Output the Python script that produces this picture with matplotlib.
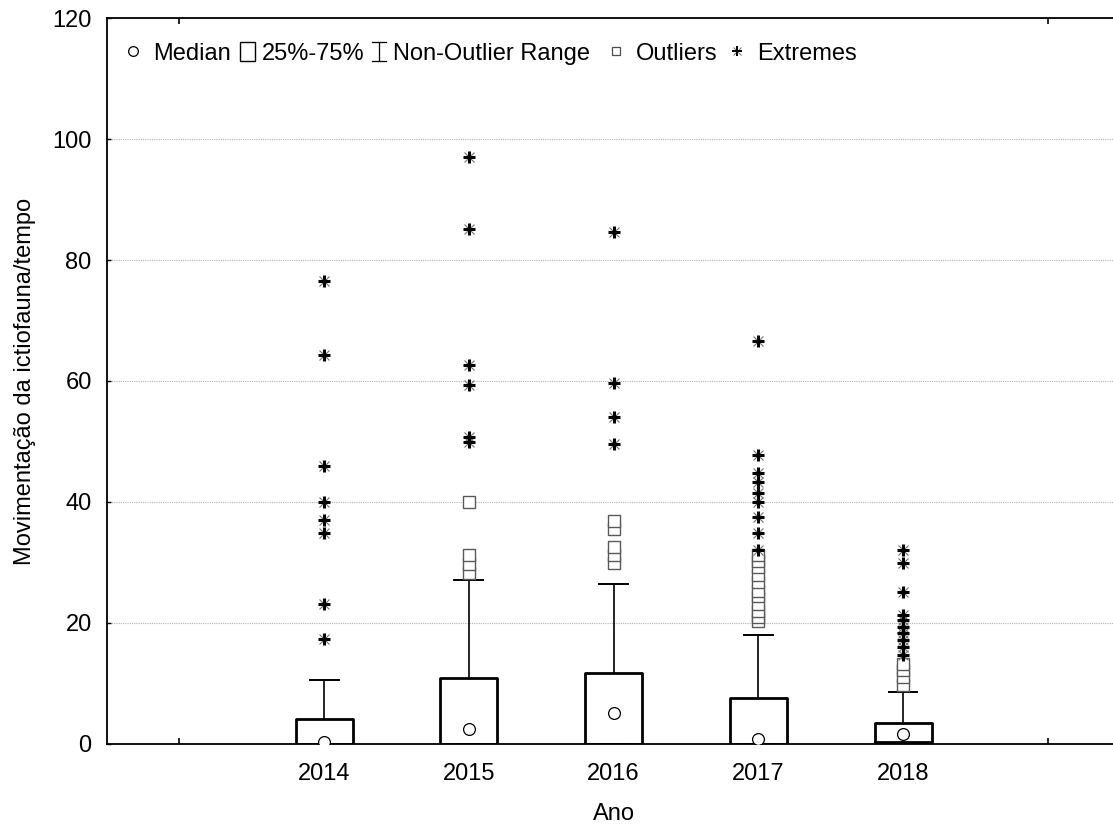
import matplotlib
matplotlib.use("Agg")
import matplotlib.pyplot as plt
from matplotlib.patches import Rectangle

plt.rcParams["font.family"] = ["Liberation Sans", "DejaVu Sans"]

years = ["2014", "2015", "2016", "2017", "2018"]
q1 = [0.0, 0.0, 0.0, 0.0, 0.3]
q3 = [4.1, 10.9, 11.8, 7.6, 3.5]
medians = [0.3, 2.5, 5.1, 0.8, 1.6]
whisk_lo = [0.0, 0.0, 0.0, 0.0, 0.0]
whisk_hi = [10.6, 27.1, 26.4, 18.0, 8.6]
outliers = [
    [],
    [28.3, 29.7, 31.2, 40.0],
    [29.9, 31.2, 32.6, 35.5, 36.9],
    [20.3, 21.0, 22.0, 23.2, 24.5, 25.3, 26.8, 28.0, 29.2, 30.3, 31.2],
    [9.8, 11.0, 12.3, 13.3],
]
extremes = [
    [17.4, 23.1, 34.8, 37.0, 40.0, 46.0, 64.3, 76.5],
    [49.9, 50.7, 59.3, 62.7, 85.2, 97.0],
    [49.6, 54.0, 59.7, 84.7],
    [32.1, 34.9, 37.5, 40.0, 41.5, 43.3, 44.8, 47.8, 66.6],
    [14.7, 16.0, 17.2, 18.3, 19.3, 20.5, 21.3, 25.1, 29.9, 32.1],
]

positions = list(range(1, len(years) + 1))
FS = 17

fig = plt.figure(figsize=(11.13, 8.27), dpi=100)
ax = fig.add_axes([0.0961, 0.1004, 0.9103, 0.8778])

stats = [dict(med=m, q1=a, q3=b, whislo=lo, whishi=hi, fliers=[])
         for m, a, b, lo, hi in zip(medians, q1, q3, whisk_lo, whisk_hi)]
ax.bxp(stats, positions=positions, widths=0.394, capwidths=0.2,
       showfliers=False, patch_artist=False,
       boxprops=dict(color="black", linewidth=2.0),
       whiskerprops=dict(color="black", linewidth=1.2),
       capprops=dict(color="black", linewidth=1.4),
       medianprops=dict(visible=False))

ax.plot(positions, medians, linestyle="none", marker="o", ms=8.5,
        mfc="white", mec="black", mew=0.9, zorder=4)

for pos, vals in zip(positions, outliers):
    ax.plot([pos] * len(vals), vals, linestyle="none", marker="s", ms=8.5,
            mfc="white", mec="0.35", mew=1.0, zorder=3)

for pos, vals in zip(positions, extremes):
    ax.plot([pos] * len(vals), vals, linestyle="none", marker="x", ms=7.5,
            mec="0.45", mew=0.8, zorder=3)
    ax.plot([pos] * len(vals), vals, linestyle="none", marker="+", ms=8,
            mec="black", mew=2.2, zorder=4)

ax.set_xlim(-0.5, 6.5)
ax.set_ylim(0, 120)
ax.set_yticks([0, 20, 40, 60, 80, 100, 120])
ax.set_xticks(positions)
ax.set_xticklabels(years)
ax.set_xticks(range(0, 7), minor=True)
ax.tick_params(axis="x", which="major", length=0, pad=14, labelsize=FS)
ax.tick_params(axis="x", which="minor", direction="in", length=4,
               top=True, bottom=True, width=1.2)
ax.tick_params(axis="y", direction="in", length=3, width=1.0, pad=11,
               labelsize=FS)
ax.yaxis.grid(True, linestyle=(0, (1, 1)), color="0.7", linewidth=0.8)
ax.set_axisbelow(True)
for s in ax.spines.values():
    s.set_linewidth(1.3)

ax.set_xlabel("Ano", fontsize=FS, labelpad=13)
ax.set_ylabel("Movimentação da ictiofauna/tempo", fontsize=FS, labelpad=12)

# legend strip along the top of the plot area, laid out left to right
fig.canvas.draw()
renderer = fig.canvas.get_renderer()
W = 1013.0  # axes width in pixels
cap_y = 0.954   # vertical centre of the symbols
base_y = 0.942  # text baseline
tr = ax.transAxes


def fx(x_px):
    return (x_px - 107) / W


def put_text(x_px, label):
    t = ax.text(fx(x_px), base_y, label, transform=tr, fontsize=FS,
                va="baseline")
    return x_px + t.get_window_extent(renderer).width


x = 133
ax.plot([fx(x)], [cap_y], transform=tr, marker="o", ms=7, mfc="white",
        mec="black", mew=0.9)
x = put_text(x + 20, "Median")

x += 9
ax.add_patch(Rectangle((fx(x), cap_y - 0.0135), 15 / W, 0.027,
                       transform=tr, fill=False, ec="black", lw=1.0))
x = put_text(x + 15 + 7, "25%-75%")

x += 15
ax.plot([fx(x), fx(x)], [cap_y - 0.013, cap_y + 0.013], transform=tr,
        color="black", lw=0.9)
for yy in (cap_y - 0.013, cap_y + 0.013):
    ax.plot([fx(x - 7), fx(x + 7)], [yy, yy], transform=tr,
            color="black", lw=0.9)
x = put_text(x + 14, "Non-Outlier Range")

x += 26
ax.plot([fx(x)], [cap_y], transform=tr, marker="s", ms=6, mfc="white",
        mec="0.3", mew=0.9)
x = put_text(x + 19, "Outliers")

x += 20
ax.plot([fx(x)], [cap_y], transform=tr, marker="x", ms=6, mec="0.45",
        mew=0.7)
ax.plot([fx(x)], [cap_y], transform=tr, marker="+", ms=6.5, mec="black",
        mew=1.4)
put_text(x + 20, "Extremes")

fig.savefig("out.png", dpi=100)
